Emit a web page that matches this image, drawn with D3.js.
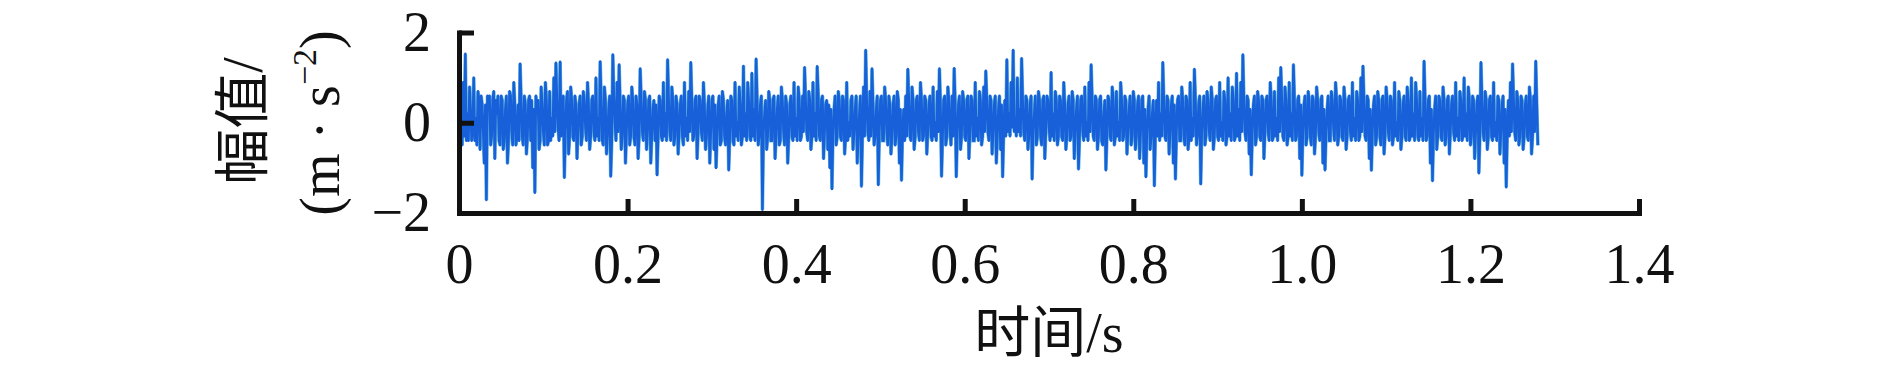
<!DOCTYPE html>
<html>
<head>
<meta charset="utf-8">
<script src="https://cdnjs.cloudflare.com/ajax/libs/d3/7.8.5/d3.min.js"></script>
<script type='text/javascript'>
// peaks: samples at t = i*dt; body: the samples half a step later
var dt = 0.0025;
var peaks = [
 0.6,-0.3,0.9,1.53,0.2,0.8,-0.4,1.0,0.1,0.7,-0.6,0.4,-0.9,-1.71,0.3,-0.5,0.5,-0.8,0.2,-0.4,
 0.6,-0.6,0.3,-0.9,0.7,-0.2,0.9,-0.5,0.4,1.31,-0.3,0.6,-0.7,0.5,-0.4,-1.0,-1.55,0.2,-0.6,0.8,
 -0.2,0.9,-0.5,0.7,0.1,1.0,1.33,-0.1,1.35,0.2,-1.22,0.5,-0.7,0.8,-0.3,0.6,-0.8,0.4,-0.5,0.7,
 -0.1,0.9,-0.6,0.5,-0.2,1.0,0.1,1.36,-0.4,0.8,-0.7,0.3,-1.19,1.51,0.0,0.9,1.29,-0.6,0.6,-0.9,
 0.4,-0.5,0.8,-0.3,0.6,-0.8,1.2,-0.2,0.7,-0.6,0.5,-0.9,0.3,-0.4,-1.16,0.6,-0.3,0.9,0.2,1.4,
 -0.2,0.8,-0.5,0.6,-0.7,0.4,-0.3,0.9,0.1,0.7,1.34,-0.4,0.5,-0.8,0.6,-0.2,0.9,-0.6,0.3,-0.9,
 0.5,-0.6,-1.0,0.4,-0.5,0.7,-0.3,0.2,-1.05,0.6,-0.4,0.9,0.0,0.8,-0.5,1.26,0.2,0.9,-0.3,1.1,
 0.3,1.42,-0.5,0.4,-1.93,0.2,-0.6,0.7,-0.4,0.5,-0.8,0.3,-0.5,0.8,-0.2,0.6,-0.9,0.4,-0.3,0.9,
 0.1,0.8,-0.4,0.6,1.23,-0.2,0.7,-0.6,0.9,0.2,1.25,-0.3,0.5,-0.8,0.4,-0.6,-1.0,-1.47,0.3,-0.5,
 0.7,-0.3,0.6,-0.7,0.9,0.0,0.5,-0.6,0.3,-0.9,0.2,-1.41,0.8,1.61,-0.2,0.7,1.2,-0.5,0.3,-1.38,
 0.5,-0.4,0.8,-0.2,0.6,-0.7,0.4,-0.5,0.7,-0.9,-1.28,0.3,0.6,1.19,-0.3,0.8,-0.6,0.5,-0.2,0.9,
 -0.4,0.6,-0.7,0.4,-0.3,0.8,0.0,0.7,1.2,-1.19,0.5,-0.5,0.8,-0.2,0.6,1.21,-1.2,0.4,-0.6,0.7,
 -0.3,0.5,-0.8,0.6,-0.4,0.9,0.1,0.7,-0.5,0.8,1.15,-0.2,0.6,-0.7,0.4,-0.9,0.3,-0.6,-1.2,0.5,
 1.4,0.2,0.9,1.61,0.1,1.0,0.3,1.43,-0.2,0.6,-0.6,0.4,-1.25,0.2,-0.5,0.7,-0.3,0.5,-0.8,0.6,
 -0.1,1.12,0.2,0.7,-0.5,0.6,-0.3,0.9,-0.6,0.4,-0.4,0.7,-0.8,0.3,-1.03,0.5,-0.2,0.8,0.0,0.9,
 1.29,-0.3,0.6,-0.6,0.5,-0.4,0.2,-1.05,0.6,-0.3,0.8,-0.5,0.7,0.0,0.9,-0.4,0.6,-0.7,0.3,-0.5,
 0.7,-0.6,0.4,-0.8,0.5,-0.9,-1.2,0.3,-0.6,0.2,-1.4,0.5,0.9,0.2,1.34,-0.3,0.6,-0.7,0.4,-0.9,
 -1.25,0.5,-0.4,0.8,-0.3,0.6,-0.6,0.9,0.1,1.19,-0.5,0.4,-1.36,0.3,-0.5,0.7,-0.2,0.8,-0.6,0.5,
 -0.3,0.9,0.0,0.7,-0.5,1.0,0.2,0.8,-0.4,1.1,0.3,0.9,1.51,-0.2,0.6,-0.7,-1.16,0.4,-0.5,0.7,
 -0.3,0.6,-0.8,0.5,-0.2,0.9,-0.4,0.7,0.1,1.0,1.23,-0.3,0.8,-0.5,0.9,0.2,1.29,-0.4,0.5,-0.8,
 -1.17,0.4,-0.5,0.7,-0.3,0.6,-0.7,0.8,-0.2,0.5,-0.9,-1.05,0.3,-0.4,0.7,-0.1,0.9,-0.5,0.6,-0.3,
 0.8,-0.6,0.5,-0.2,0.9,0.1,0.7,-0.4,1.0,1.26,-0.3,0.6,-0.8,-1.06,0.4,-0.5,0.7,-0.3,0.5,-0.7,
 0.8,-0.2,0.6,-0.5,0.9,0.0,0.7,-0.6,0.4,-0.3,0.8,-0.4,1.0,0.2,0.9,-0.3,0.7,0.1,1.37,-0.4,
 0.5,-0.9,-1.29,0.3,-0.6,0.6,-0.3,0.8,-0.5,0.5,-0.7,0.4,-0.2,0.9,0.1,0.7,-0.4,1.0,0.2,0.8,
 -0.5,0.6,-0.8,0.4,-1.12,1.34,-0.2,0.7,-0.6,0.5,-0.3,0.9,0.0,0.6,-0.7,0.4,-0.9,-1.43,0.5,0.9,
 1.31,-0.2,0.7,-0.5,0.6,-0.6,0.4,-0.3,0.8,-0.7,0.6,1.37,-0.5
];
var body = [
 0.2,-0.5,-0.3,-0.4,-0.4,0.3,-0.2,-0.4,-0.5,0.5,0.6,-0.2,0.4,0.6,0.6,-0.3,0.7,0.5,0.6,-0.5,
 0.5,-0.4,0.6,-0.4,0.6,-0.5,0.4,-0.3,-0.4,0.5,-0.5,0.4,-0.3,0.6,0.5,0.3,0.6,0.5,-0.4,0.4,
 -0.5,0.5,-0.4,-0.4,-0.3,-0.2,0.5,-0.4,-0.3,0.6,-0.2,0.7,-0.3,0.5,-0.4,0.4,-0.2,0.6,-0.3,0.5,
 -0.4,0.4,-0.3,0.6,-0.4,-0.3,-0.4,0.5,-0.5,0.5,-0.3,0.6,-0.4,0.6,-0.4,-0.2,0.4,-0.3,0.5,-0.2,
 0.6,-0.3,0.5,-0.5,0.4,-0.3,0.5,-0.4,0.5,-0.2,0.6,-0.3,0.5,0.4,-0.3,0.5,-0.4,-0.3,-0.4,0.5,
 -0.4,0.5,-0.3,0.4,-0.2,0.6,-0.5,-0.3,-0.4,-0.2,0.5,-0.3,0.6,-0.2,0.5,-0.4,0.4,-0.3,0.6,-0.2,
 0.6,0.4,-0.3,0.6,-0.4,0.5,-0.5,0.5,-0.3,0.5,-0.5,-0.3,-0.4,0.4,-0.3,-0.3,-0.4,0.5,-0.4,-0.3,
 -0.4,0.5,-0.3,0.6,-0.2,0.5,-0.3,0.5,-0.4,0.6,-0.3,0.6,-0.4,0.5,-0.5,0.4,-0.3,0.6,-0.4,-0.3,
 -0.4,0.5,-0.3,-0.2,0.5,-0.4,0.5,-0.3,-0.3,-0.4,0.6,-0.4,0.6,-0.2,0.5,0.4,0.3,-0.2,0.6,-0.3,
 0.5,-0.4,0.5,-0.3,-0.4,-0.3,0.6,-0.2,0.6,-0.3,0.6,-0.2,-0.3,0.5,-0.4,-0.3,0.4,-0.3,0.6,-0.2,
 0.6,-0.4,0.5,-0.5,0.4,-0.3,0.6,-0.3,0.5,0.3,-0.2,-0.4,-0.3,0.5,-0.4,0.5,-0.3,0.6,-0.4,0.5,
 -0.3,0.5,-0.2,0.6,-0.4,-0.3,-0.4,-0.2,0.4,-0.3,0.6,-0.3,0.5,-0.5,-0.3,0.4,-0.2,0.6,-0.3,0.5,
 -0.4,0.6,-0.2,0.5,-0.4,-0.3,-0.4,0.5,-0.3,-0.2,0.5,-0.4,0.5,-0.2,0.6,-0.3,0.6,0.4,-0.2,-0.3,
 -0.2,-0.3,-0.1,-0.2,-0.3,-0.2,-0.3,0.5,-0.4,0.5,-0.3,0.6,-0.2,0.6,-0.3,0.5,-0.5,0.6,-0.2,0.5,
 -0.4,-0.3,-0.4,0.5,-0.3,0.5,-0.4,0.4,-0.3,0.6,-0.3,0.5,-0.2,0.6,-0.3,0.6,-0.4,-0.3,-0.4,-0.2,
 0.5,-0.4,0.5,-0.3,0.6,-0.5,0.5,-0.3,0.5,-0.4,0.5,-0.3,-0.3,-0.4,0.5,-0.3,0.5,-0.2,0.6,-0.3,
 0.5,-0.3,0.6,-0.2,0.6,0.3,-0.2,0.6,-0.3,0.5,-0.2,-0.3,-0.4,-0.3,0.5,-0.4,0.5,-0.2,0.6,0.4,
 -0.2,0.6,-0.4,0.5,-0.5,0.5,-0.3,-0.4,-0.3,0.5,-0.3,0.6,-0.2,0.6,-0.3,0.5,-0.4,0.5,-0.3,0.6,
 -0.4,-0.3,-0.4,0.5,-0.3,-0.3,-0.4,0.5,-0.3,-0.3,-0.4,-0.2,0.5,-0.4,0.5,0.3,-0.2,0.6,-0.3,0.5,
 -0.4,0.5,-0.2,0.6,-0.4,0.5,-0.3,-0.3,-0.4,-0.2,0.5,-0.4,0.5,-0.3,-0.3,-0.4,0.5,-0.3,0.6,0.4,
 -0.2,0.6,-0.3,0.5,-0.5,0.5,-0.3,0.5,-0.4,0.6,0.3,-0.2,0.6,-0.4,0.5,-0.4,0.5,-0.3,0.5,-0.4,
 0.5,-0.3,0.6,-0.4,-0.3,-0.4,0.5,-0.3,-0.2,0.5,-0.4,0.5,0.3,-0.2,0.6,-0.3,0.5,-0.5,0.6,-0.3,
 0.5,-0.4,0.5,-0.3,-0.3,-0.4,0.5,-0.3,0.6,-0.4,0.5,-0.3,-0.3,-0.4,0.5,-0.4,-0.3,-0.4,0.5,-0.3,
 0.6,0.3,-0.2,0.6,-0.3,0.5,-0.4,0.5,-0.3,0.6,-0.2,0.6,-0.4,-0.3,-0.4,0.5,-0.3,-0.3,-0.4,0.5,
 -0.3,0.5,-0.2,0.6,-0.3,0.5,-0.4,0.5,-0.3,0.6,-0.4,-0.3,-0.4,0.5,-0.2,0.6,0.3,-0.2,-0.3,-0.2,
 0.5,-0.4,0.5,-0.3,0.5,-0.3,0.6,-0.4,0.5,-0.3,-0.2,0.4
];
var xTicks = [0, 0.2, 0.4, 0.6, 0.8, 1.0, 1.2, 1.4];
var xTickLabels = ["0", "0.2", "0.4", "0.6", "0.8", "1.0", "1.2", "1.4"];
var yTicks = [-2, 0, 2];
var yTickLabels = ["\u22122", "0", "2"];

document.addEventListener("DOMContentLoaded", function(event) {

var width = 1890,
    height = 370;
var margin = {top: 32.5, right: 251, bottom: 157, left: 459};

var svg = d3.select("div#plot1").append("svg")
    .attr("width", width)
    .attr("height", height);

var x = d3.scaleLinear().domain([0, 1.4]).range([margin.left, width - margin.right]),
    y = d3.scaleLinear().domain([-2, 2]).range([height - margin.bottom, margin.top]);

// merge the two sample sets into one time series [t, value]
var signal = [];
for (var i = 0; i < peaks.length; ++i)
{
  signal.push([i * dt, peaks[i]]);
  if (i < body.length && i < peaks.length - 1)
    signal.push([(i + 0.5) * dt, body[i]]);
}

var line = d3.line()
    .x(function(d) { return x(d[0]); })
    .y(function(d) { return y(d[1]); });

var plot = svg.append("g");

// light halo first, then the blue trace over it
plot.append("path")
    .datum(signal)
    .attr("class", "halo")
    .attr("d", line);
plot.append("path")
    .datum(signal)
    .attr("class", "trace")
    .attr("d", line);

// axes: ticks point inward
var xAxis = d3.axisBottom(x)
    .tickValues(xTicks)
    .tickSizeInner(-14)
    .tickSizeOuter(0)
    .tickPadding(30)
    .tickFormat(function(d, i) { return xTickLabels[i]; });
var yAxis = d3.axisLeft(y)
    .tickValues(yTicks)
    .tickSizeInner(-15)
    .tickSizeOuter(0)
    .tickPadding(28)
    .tickFormat(function(d, i) { return yTickLabels[i]; });

svg.append("g")
    .attr("class", "axis")
    .attr("transform", "translate(0," + y(-2) + ")")
    .call(xAxis);
svg.append("g")
    .attr("class", "axis")
    .attr("transform", "translate(" + x(0) + ",0)")
    .call(yAxis);

// axis titles
svg.append("text")
    .attr("class", "title")
    .attr("x", (x(0) + x(1.4)) / 2)
    .attr("y", 352)
    .attr("text-anchor", "middle")
    .text("时间/s");

svg.append("text")
    .attr("class", "title")
    .attr("transform", "translate(243,121) rotate(-90)")
    .attr("text-anchor", "middle")
    .attr("dominant-baseline", "central")
    .text("幅值/");

var unit = svg.append("text")
    .attr("class", "title")
    .attr("transform", "translate(320,123) rotate(-90)")
    .attr("text-anchor", "middle")
    .attr("dominant-baseline", "central");
unit.append("tspan").text("(m \u00b7 s");
unit.append("tspan")
    .attr("font-size", "34px")
    .attr("dy", "-16")
    .text("\u22122");
unit.append("tspan")
    .attr("dy", "16")
    .text(")");

}); // DOMContentLoaded event
</script>
<style type='text/css'>
body {
  margin: 0;
  background: #fff;
}
svg {
  display: block;
}
path.trace {
  fill: none;
  stroke: #1760da;
  stroke-width: 2.5;
  stroke-linejoin: round;
}
path.halo {
  fill: none;
  stroke: #68bcd6;
  stroke-width: 3.6;
  stroke-linejoin: miter;
  stroke-miterlimit: 6;
}
.axis path.domain {
  stroke: #111;
  stroke-width: 5;
  stroke-linecap: square;
}
.axis .tick line {
  stroke: #111;
  stroke-width: 5;
}
.axis .tick text, text.title {
  font-family: "Liberation Serif", "Times New Roman", "Noto Sans CJK SC", serif;
  font-size: 56px;
  fill: #111;
}
</style>
</head><body>
<div id="plot1">
</div>
</body>
</html>
